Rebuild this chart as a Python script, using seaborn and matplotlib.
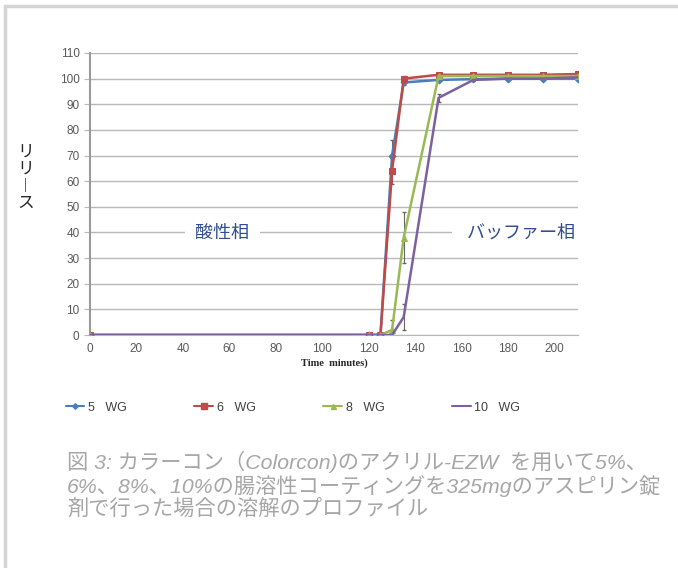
import numpy as np
import pandas as pd
import seaborn as sns
import matplotlib.pyplot as plt
from matplotlib.lines import Line2D

# dissolution data
time_min = [0, 120, 125, 130, 135, 150, 165, 180, 195, 210]
wg5 = [0, 0, 0, 70, 98.5, 99.5, 99.8, 100, 100, 100]
wg6 = [0, 0, 0, 64, 100, 101.5, 101.5, 101.5, 101.5, 101.8]
wg8 = [0, 0, 0, 2, 38, 101, 101, 101, 101, 101]
wg10 = [0, 0, 0, 0, 7, 92.5, 99.5, 100, 100, 100.5]
err5 = [0, 0, 0, 6, 1, 0.5, 0.5, 0.5, 0.5, 0.5]
err6 = [0, 0, 0, 5, 1, 0.5, 0.5, 0.5, 0.5, 0.5]
err8 = [0, 0, 0, 4, 10, 0.5, 0.5, 0.5, 0.5, 0.5]
err10 = [0, 0, 0, 0, 5, 1.5, 0.5, 0.5, 0.5, 0.5]

series_names = ["5", "6", "8", "10"]
legend_labels = ["5   WG", "6   WG", "8   WG", "10   WG"]
caption_lines = [
    "図 3: カラーコン（Colorcon)のアクリル-EZW  を用いて5%、",
    "6%、8%、10%の腸溶性コーティングを325mgのアスピリン錠",
    "剤で行った場合の溶解のプロファイル",
]

colors = ["#4a7ebb", "#be4b48", "#98b954", "#7d60a0"]
markers = ["D", "s", "^", None]
msizes = [3.5, 5, 4.5, 0]


def build_frame():
    rows = []
    for name, vals, errs in zip(series_names, [wg5, wg6, wg8, wg10], [err5, err6, err8, err10]):
        for t, v, e in zip(time_min, vals, errs):
            rows.append({"time": t, "release": v, "err": e, "series": name})
    return pd.DataFrame(rows)


def main():
    df = build_frame()
    sns.set_style("white")
    plt.rcParams['font.family'] = ['Liberation Sans', 'Noto Sans CJK JP', 'DejaVu Sans']

    fig = plt.figure(figsize=(6.78, 5.68), dpi=100)
    ax = fig.add_axes([0.1327, 0.4102, 0.7198, 0.4965])

    for name, col, mk, ms in zip(series_names, colors, markers, msizes):
        sub = df[df.series == name]
        ax.errorbar(sub.time, sub.release, yerr=sub.err, fmt="none", ecolor="#666666",
                    elinewidth=0.8, capsize=1.5, zorder=2)
        sns.lineplot(data=sub, x="time", y="release", color=col, marker=mk,
                     markersize=ms, markeredgecolor=col, linewidth=1.8, ax=ax, zorder=3)

    ax.set_xlim(0, 210)
    ax.set_ylim(0, 110)
    ax.set_xticks(range(0, 211, 20))
    ax.set_yticks(range(0, 111, 10))
    ax.yaxis.grid(True, color="#b8b8b8", linewidth=1.0)
    ax.xaxis.grid(False)
    for s in ["top", "right"]:
        ax.spines[s].set_visible(False)
    ax.spines["left"].set_color("#9a9a9a")
    ax.spines["left"].set_linewidth(1.5)
    ax.spines["bottom"].set_color("#b8b8b8")
    ax.tick_params(axis="y", length=4, color="#b8b8b8", labelsize=8.5, labelcolor="#595959", left=True)
    ax.tick_params(axis="x", length=0, labelsize=8.5, labelcolor="#595959", pad=6)
    ax.set_xlabel("Time  minutes)", family="Liberation Serif", fontweight="bold", fontsize=7.5, labelpad=2)
    ax.set_ylabel("")

    ax.text(57, 40, "酸性相", color="#2f4d8f", fontsize=13, family=["Noto Sans CJK JP"],
            ha="center", va="center", zorder=4,
            bbox=dict(boxstyle="square,pad=0.6", fc="white", ec="none"))
    ax.text(159, 40, "  バッファー相", color="#2f4d8f", fontsize=13, family=["Noto Sans CJK JP"],
            ha="left", va="center", zorder=4, clip_on=False,
            bbox=dict(boxstyle="square,pad=0.4", fc="white", ec="none"))

    fig.text(0.038, 0.687, "リ\nリ\n︱\nス", fontsize=12, family=["Noto Sans CJK JP"],
             ha="center", va="center", linespacing=1.0)

    handles = [Line2D([], [], color=c, marker=m, markersize=ms * 0.8, linewidth=1.5)
               for c, m, ms in zip(colors, markers, msizes)]
    fig.legend(handles, legend_labels, loc="center", bbox_to_anchor=(0.432, 0.282), ncol=4,
               frameon=False, fontsize=9, handlelength=1.5, handletextpad=0.3, columnspacing=5.4,
               labelcolor="#404040")

    for i, line in enumerate(caption_lines):
        fig.text(0.099, 0.187 - i * 0.042, line, fontsize=15.3, color="#a6a6a6",
                 family=["Liberation Sans", "Noto Sans CJK JP"], style="italic",
                 ha="left", va="center")

    # light frame on top and left
    fig.add_artist(Line2D([0.008, 1.0], [0.99, 0.99], color="#d4d4d4", linewidth=2.5))
    fig.add_artist(Line2D([0.008, 0.008], [0.0, 0.99], color="#d4d4d4", linewidth=2.5))

    fig.savefig("out.png", dpi=100)


if __name__ == "__main__":
    main()
